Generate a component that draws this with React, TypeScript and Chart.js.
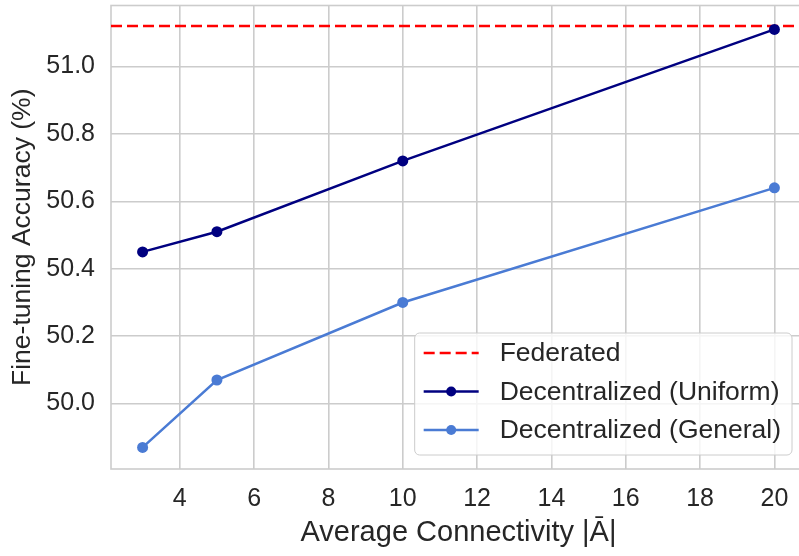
import React, { useEffect, useRef } from "react";
import { Chart, registerables } from "chart.js";

Chart.register(...registerables);

// ---- data ----
const CONNECTIVITY = [3, 5, 10, 20];
const UNIFORM = [50.45, 50.51, 50.72, 51.11];
const GENERAL = [49.87, 50.07, 50.3, 50.64];
const FEDERATED = 51.12;
const X_TICKS = [4, 6, 8, 10, 12, 14, 16, 18, 20];
const Y_TICKS = [50.0, 50.2, 50.4, 50.6, 50.8, 51.0];
const X_MIN = 2.15;
const X_MAX = 20.85;
const Y_MIN = 49.806;
const Y_MAX = 51.181;
const SERIES_LABELS = ["Federated", "Decentralized (Uniform)", "Decentralized (General)"];

const FONT = '"Liberation Sans", Arial, Helvetica, sans-serif';
const TEXT = "#262626";
const GRID = "#cccccc";
const COLORS = { fed: "#ff0000", uni: "#000080", gen: "#4a7bd4" };

const framePlugin = {
  id: "frame",
  beforeDatasetsDraw(chart: any) {
    const { ctx, chartArea } = chart;
    ctx.save();
    ctx.strokeStyle = GRID;
    ctx.lineWidth = 1.6;
    ctx.strokeRect(chartArea.left, chartArea.top, chartArea.right - chartArea.left, chartArea.bottom - chartArea.top);
    ctx.restore();
  },
};

const legendPlugin = {
  id: "boxLegend",
  afterDatasetsDraw(chart: any) {
    const { ctx, chartArea } = chart;
    const ds = chart.data.datasets;
    ctx.save();
    ctx.font = `26.5px ${FONT}`;
    const textW = Math.max(...ds.map((d: any) => ctx.measureText(d.label).width));
    const padL = 9, sample = 55, gap = 21, padR = 11;
    const w = padL + sample + gap + textW + padR;
    const h = 122;
    const right = chartArea.right - 14;
    const bottom = chartArea.bottom - 14;
    const left = right - w;
    const top = bottom - h;
    ctx.beginPath();
    ctx.roundRect(left, top, w, h, 5);
    ctx.fillStyle = "rgba(255,255,255,0.8)";
    ctx.fill();
    ctx.strokeStyle = GRID;
    ctx.lineWidth = 1;
    ctx.stroke();
    const rows = [20, 58.5, 97];
    ds.forEach((d: any, i: number) => {
      const y = top + rows[i];
      const x0 = left + padL;
      ctx.beginPath();
      ctx.setLineDash(d.borderDash || []);
      ctx.strokeStyle = d.borderColor;
      ctx.lineWidth = d.borderWidth;
      ctx.moveTo(x0, y);
      ctx.lineTo(x0 + sample, y);
      ctx.stroke();
      ctx.setLineDash([]);
      if (d.pointRadius > 0) {
        ctx.beginPath();
        ctx.fillStyle = d.backgroundColor;
        ctx.arc(x0 + sample / 2, y, 5, 0, Math.PI * 2);
        ctx.fill();
      }
      ctx.fillStyle = TEXT;
      ctx.textBaseline = "middle";
      ctx.textAlign = "left";
      ctx.fillText(d.label, x0 + sample + gap, y + 1);
    });
    ctx.restore();
  },
};

export default function App() {
  const ref = useRef<HTMLCanvasElement | null>(null);

  useEffect(() => {
    if (!ref.current) return;
    const chart = new Chart(ref.current, {
      type: "line",
      data: {
        datasets: [
          {
            label: SERIES_LABELS[0],
            data: [
              { x: X_MIN, y: FEDERATED },
              { x: X_MAX, y: FEDERATED },
            ],
            borderColor: COLORS.fed,
            backgroundColor: COLORS.fed,
            borderWidth: 2.5,
            borderDash: [11, 5],
            pointRadius: 0,
            order: 3,
          },
          {
            label: SERIES_LABELS[1],
            data: CONNECTIVITY.map((x, i) => ({ x, y: UNIFORM[i] })),
            borderColor: COLORS.uni,
            backgroundColor: COLORS.uni,
            borderWidth: 2.5,
            pointRadius: 5.5,
            pointBorderWidth: 0,
            order: 2,
          },
          {
            label: SERIES_LABELS[2],
            data: CONNECTIVITY.map((x, i) => ({ x, y: GENERAL[i] })),
            borderColor: COLORS.gen,
            backgroundColor: COLORS.gen,
            borderWidth: 2.5,
            pointRadius: 5.5,
            pointBorderWidth: 0,
            order: 1,
          },
        ],
      },
      options: {
        animation: false,
        responsive: false,
        maintainAspectRatio: false,
        layout: { padding: { left: 0, right: 14, top: 3, bottom: 0 } },
        plugins: { legend: { display: false }, tooltip: { enabled: false } },
        scales: {
          x: {
            type: "linear",
            min: X_MIN,
            max: X_MAX,
            afterBuildTicks: (s: any) => {
              s.ticks = X_TICKS.map((v) => ({ value: v }));
            },
            afterFit: (s: any) => {
              s.height = 87;
              s.paddingLeft = 0;
              s.paddingRight = 0;
            },
            grid: { color: GRID, lineWidth: 1.6, drawTicks: false },
            border: { display: false },
            ticks: {
              font: { family: FONT, size: 25 },
              color: TEXT,
              padding: 15,
              maxRotation: 0,
              autoSkip: false,
              callback: (v: any) => String(v),
            },
            title: {
              display: true,
              text: "Average Connectivity |Ā|",
              font: { family: FONT, size: 29 },
              color: TEXT,
              padding: { top: 0, bottom: 5.5 },
            },
          },
          y: {
            type: "linear",
            min: Y_MIN,
            max: Y_MAX,
            afterBuildTicks: (s: any) => {
              s.ticks = Y_TICKS.map((v) => ({ value: v }));
            },
            afterFit: (s: any) => {
              s.width = 111;
              s.paddingTop = 0;
              s.paddingBottom = 0;
            },
            grid: { color: GRID, lineWidth: 1.6, drawTicks: false },
            border: { display: false },
            ticks: {
              font: { family: FONT, size: 25 },
              color: TEXT,
              padding: 16,
              autoSkip: false,
              callback: (v: any) => Number(v).toFixed(1),
            },
            title: {
              display: true,
              text: "Fine-tuning Accuracy (%)",
              font: { family: FONT, size: 26.5 },
              color: TEXT,
              padding: { top: 6.6, bottom: 0 },
            },
          },
        },
      },
      plugins: [framePlugin, legendPlugin],
    } as any);
    return () => chart.destroy();
  }, []);

  return (
    <div
      style={{
        position: "fixed",
        left: 0,
        top: 0,
        width: 799,
        height: 556,
        overflow: "hidden",
        background: "#ffffff",
      }}
    >
      <canvas ref={ref} width={820} height={556} style={{ display: "block", width: 820, height: 556 }} />
    </div>
  );
}
